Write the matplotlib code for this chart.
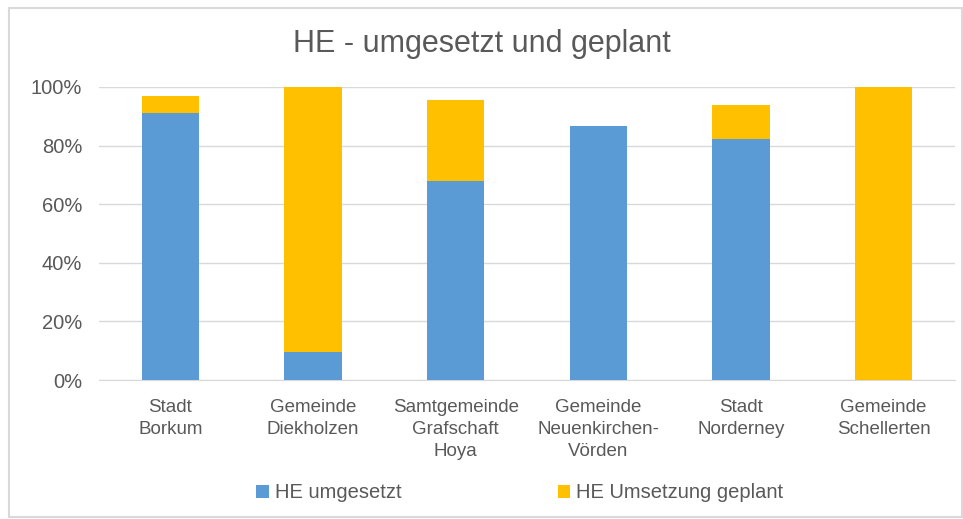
import matplotlib
matplotlib.use("Agg")
import matplotlib.pyplot as plt
from matplotlib.patches import Rectangle
import numpy as np

plt.rcParams['font.family'] = ['Liberation Sans', 'DejaVu Sans']

categories = ["Stadt\nBorkum", "Gemeinde\nDiekholzen", "Samtgemeinde\nGrafschaft\nHoya",
              "Gemeinde\nNeuenkirchen-\nVörden", "Stadt\nNorderney", "Gemeinde\nSchellerten"]
umgesetzt = [91.0, 9.5, 68.0, 86.6, 82.3, 0.0]
geplant = [6.0, 90.5, 27.6, 0.0, 11.7, 100.0]
series_names = ["HE umgesetzt", "HE Umsetzung geplant"]
yticks = [0, 20, 40, 60, 80, 100]

blue = "#5B9BD5"
orange = "#FFC000"
txt = "#595959"
grid = "#D9D9D9"

fig = plt.figure(figsize=(9.63, 5.19), dpi=100)
fig.patches.append(Rectangle((9/963, 2/519), 953/963, 509/519, transform=fig.transFigure,
                             fill=False, edgecolor="#D9D9D9", linewidth=1.5))
ax = fig.add_axes([99/963, 1 - 380/519, 856/963, 293/519])

x = np.arange(len(categories))
w = 0.4
ax.bar(x, umgesetzt, w, color=blue, label=series_names[0], zorder=3)
ax.bar(x, geplant, w, bottom=umgesetzt, color=orange, label=series_names[1], zorder=3)

ax.set_xlim(-0.5, len(categories) - 0.5)
ax.set_ylim(0, 100)
ax.set_yticks(yticks)
ax.set_yticklabels([f"{v}%" for v in yticks], fontsize=14.5, color=txt)
ax.set_xticks(x)
ax.set_xticklabels(categories, fontsize=13.5, color=txt, linespacing=1.35)
ax.tick_params(axis='both', length=0)
ax.tick_params(axis='y', pad=12)
ax.tick_params(axis='x', pad=14)
ax.grid(axis='y', color=grid, linewidth=1, zorder=0)
for s in ["top", "right", "left"]:
    ax.spines[s].set_visible(False)
ax.spines["bottom"].set_color(grid)

fig.text(0.5, 1 - 44/519, "HE - umgesetzt und geplant", ha='center', va='center',
         fontsize=22, color=txt)

leg = fig.legend(loc='center', bbox_to_anchor=(0.540, 1 - 493/519), ncol=2, frameon=False,
                 fontsize=14.5, handlelength=0.6, handleheight=0.6, handletextpad=0.3,
                 columnspacing=7.8)
for t in leg.get_texts():
    t.set_color(txt)

fig.savefig("out.png", dpi=100)
